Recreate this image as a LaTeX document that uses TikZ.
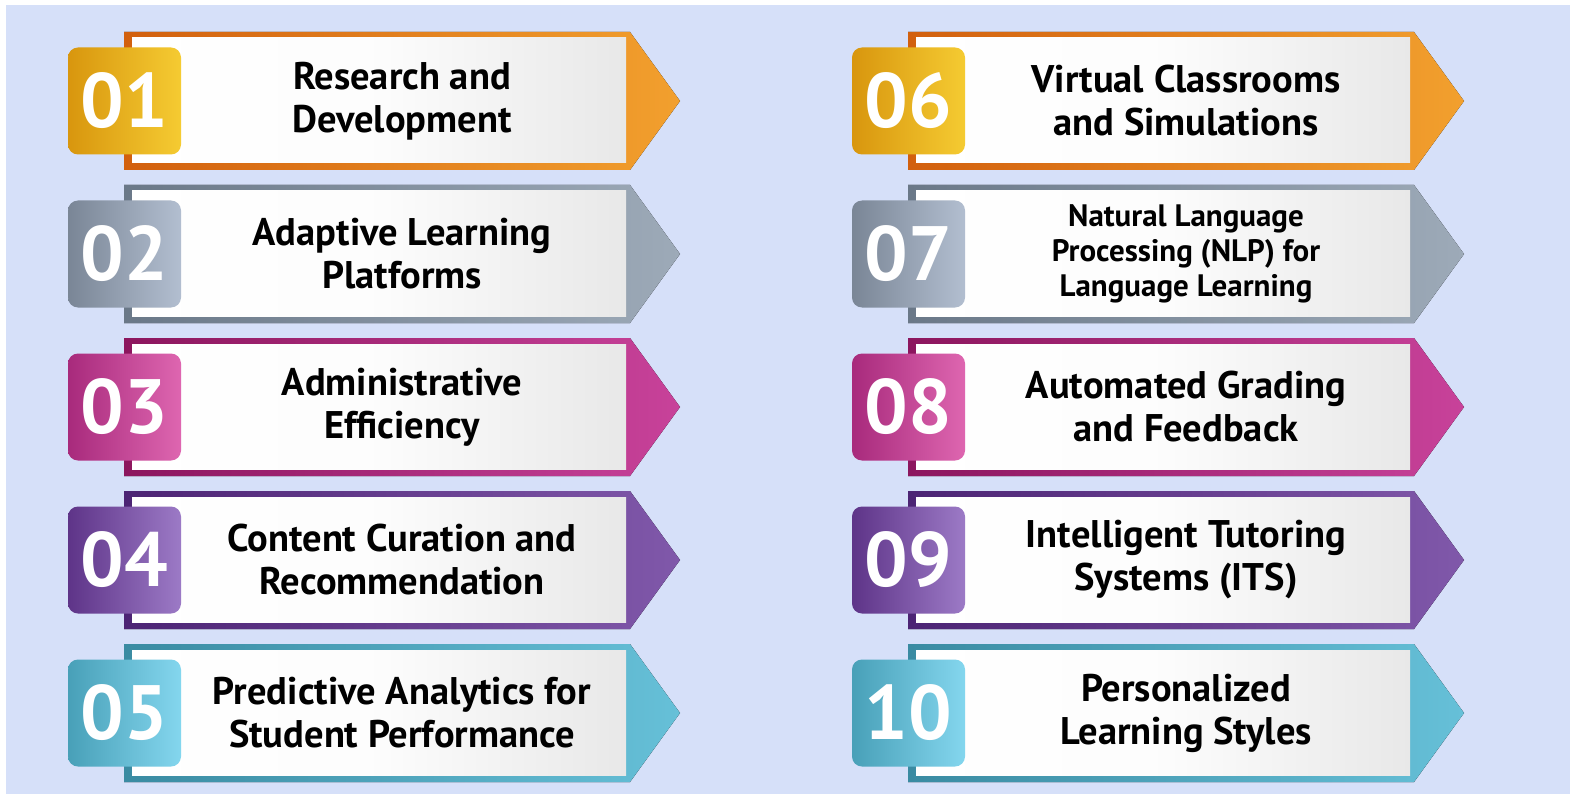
\documentclass[tikz,border=0pt]{standalone}
\usepackage{fontspec}
\setmainfont{PT Sans}
\usetikzlibrary{positioning}
\definecolor{bgblue}{HTML}{D6E0F9}
\definecolor{orange-fl}{HTML}{D2600E}
\definecolor{orange-fr}{HTML}{F2A02E}
\definecolor{orange-bl}{HTML}{D8960E}
\definecolor{orange-br}{HTML}{F5CB32}
\definecolor{slate-fl}{HTML}{6A7888}
\definecolor{slate-fr}{HTML}{9DAAB8}
\definecolor{slate-bl}{HTML}{7A8696}
\definecolor{slate-br}{HTML}{B2BED0}
\definecolor{berry-fl}{HTML}{8C165E}
\definecolor{berry-fr}{HTML}{C8429A}
\definecolor{berry-bl}{HTML}{A82A7C}
\definecolor{berry-br}{HTML}{DE66B0}
\definecolor{plum-fl}{HTML}{4C2474}
\definecolor{plum-fr}{HTML}{8058AA}
\definecolor{plum-bl}{HTML}{5E3488}
\definecolor{plum-br}{HTML}{9C7AC6}
\definecolor{teal-fl}{HTML}{3A8BA2}
\definecolor{teal-fr}{HTML}{66C0D8}
\definecolor{teal-bl}{HTML}{48A0B8}
\definecolor{teal-br}{HTML}{84D6EE}
\tikzset{
  badge/.style={rectangle, rounded corners=10pt, minimum width=113pt, minimum height=107pt, inner sep=0pt, text=white, font=\bfseries\fontsize{77}{77}\selectfont},
  label/.style={align=center, text=black, font=\bfseries\fontsize{38.5}{43}\selectfont},
  small label/.style={label, font=\bfseries\fontsize{31}{35}\selectfont},
  }

\begin{document}
\begin{tikzpicture}[x=1pt, y=-1pt]
  \useasboundingbox (0,0) rectangle (1570,794);
  \fill[white] (0,0) rectangle (1570,794);
  \fill[bgblue] (6,5) rectangle (1570,794);
  % one arrow banner for each item: number, column shift, row centre, colour, text
  \foreach \n/\dx/\yc/\c/\sty/\txt in {
      01/0/101/orange/label/{Research and\\Development},
      02/0/254/slate/label/{Adaptive Learning\\Platforms},
      03/0/407/berry/label/{Administrative\\Efficiency},
      04/0/560/plum/label/{Content Curation and\\Recommendation},
      05/0/713/teal/label/{Predictive Analytics for\\Student Performance},
      06/784/101/orange/label/{Virtual Classrooms\\and Simulations},
      07/784/254/slate/small label/{Natural Language\\Processing (NLP) for\\Language Learning},
      08/784/407/berry/label/{Automated Grading\\and Feedback},
      09/784/560/plum/label/{Intelligent Tutoring\\Systems (ITS)},
      10/784/713/teal/label/{Personalized\\Learning Styles}} {
    \fill[left color=\c-fl, right color=\c-fr]
      (124+\dx,\yc-69) -- (630+\dx,\yc-69) -- (680+\dx,\yc)
      -- (630+\dx,\yc+69) -- (124+\dx,\yc+69) -- cycle;
    \fill[left color=white, right color=black!9, middle color=black!1] (132+\dx,\yc-63) rectangle (626+\dx,\yc+62);
    \node [badge, left color=\c-bl, right color=\c-br] (badge\n) at (124.5+\dx,\yc) {\n};
    \node [\sty] (label\n) at (402+\dx,\yc) {\txt};
  }
\end{tikzpicture}
\end{document}
